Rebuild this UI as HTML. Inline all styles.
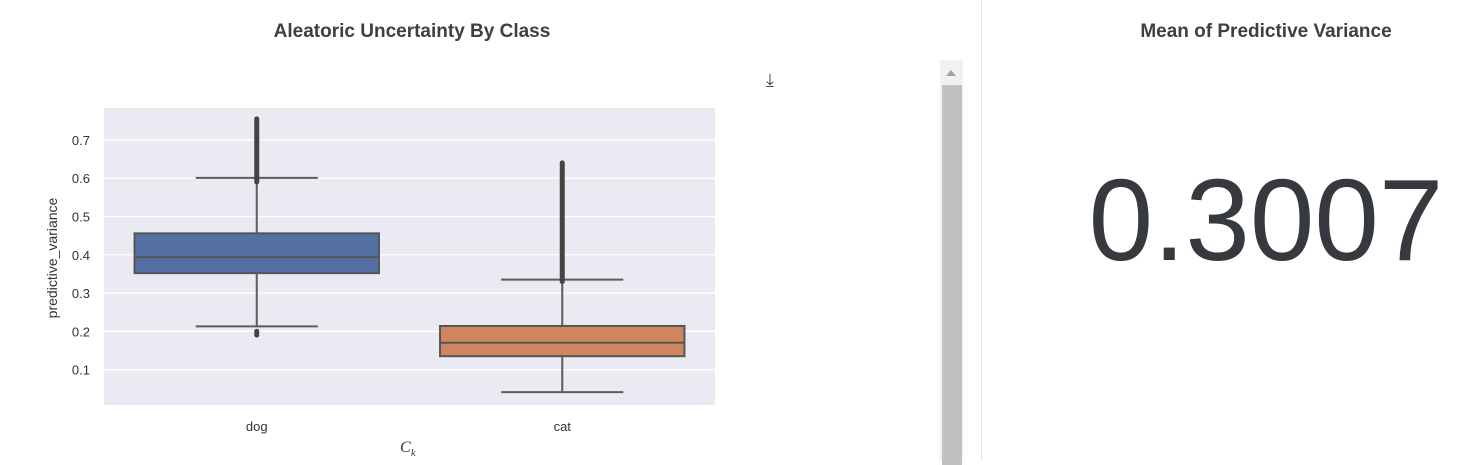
<!DOCTYPE html>
<html><head><meta charset="utf-8">
<style>
body{margin:0;width:1468px;height:460px;background:#fff;overflow:hidden;position:relative;font-family:"Liberation Sans",sans-serif}
.t{position:absolute;font-size:19px;font-weight:bold;color:#3d3f45;text-align:center}
</style></head><body>
<div class="t" style="left:100px;width:624px;top:21px">Aleatoric Uncertainty By Class</div>
<div class="t" style="left:1060px;width:412px;top:21px">Mean of Predictive Variance</div>
<div style="position:absolute;left:1060px;width:412px;top:150px;text-align:center;font-size:116px;color:#36393d;line-height:140px">0.3007</div>
<div style="position:absolute;left:981px;top:0;width:1px;height:460px;background:#e0e0e0"></div>
<div style="position:absolute;left:940px;top:60px;width:23px;height:400px;background:#f1f1f1">
 <div style="position:absolute;left:6px;top:10px;width:0;height:0;border-left:5px solid transparent;border-right:5px solid transparent;border-bottom:6px solid #a3a3a3"></div>
 <div style="position:absolute;left:2px;top:25px;width:20px;height:380px;background:#c1c1c1"></div>
</div>
<div style="position:absolute;left:766px;top:70px;font-size:18px;color:#444">⤓</div>
<svg id="c" width="1468" height="460" style="position:absolute;left:0;top:0"></svg>
<script>
const categories=["dog","cat"];
const q1=[0.352,0.135];
const medians=[0.394,0.170];
const q3=[0.456,0.214];
const whiskLo=[0.213,0.041];
const whiskHi=[0.601,0.335];
const outLo=[[0.19,0.195,0.20],[]];
const outHiMin=[0.59,0.33];
const outHiMax=[0.755,0.64];
const yTicks=[0.1,0.2,0.3,0.4,0.5,0.6,0.7];
const colors=["#5470a3","#cf8660"];
const ns="http://www.w3.org/2000/svg",svg=document.getElementById("c");
const L=104,R=715,T=108,B=405,y0=0.0075,y1=0.7835;
const y=v=>B-(v-y0)/(y1-y0)*(B-T);
const band=(R-L)/categories.length;
const xc=i=>L+band*(i+0.5);
function mk(tag,a){const e=document.createElementNS(ns,tag);for(const k in a)e.setAttribute(k,a[k]);svg.appendChild(e);return e;}
let e=mk("rect",{x:L,y:T,width:R-L,height:B-T,fill:"#eaeaf2"});

yTicks.forEach(t=>{
 let g=mk("line",{x1:L,x2:R,y1:y(t),y2:y(t),stroke:"#fff","stroke-width":1.3});
 
 let l=mk("text",{x:L-14,y:y(t)+5,"text-anchor":"end","font-size":13,fill:"#333","font-family":"Liberation Sans"});
 l.textContent=t.toFixed(1);
 
});
categories.forEach((c,i)=>{
 const cx=xc(i),bw=band*0.8,cw=bw/2;
 let w=mk("line",{x1:cx,x2:cx,y1:y(whiskLo[i]),y2:y(whiskHi[i]),stroke:"#5c5c5c","stroke-width":2});
 
 [whiskLo[i],whiskHi[i]].forEach(v=>{let k=mk("line",{x1:cx-cw/2,x2:cx+cw/2,y1:y(v),y2:y(v),stroke:"#5c5c5c","stroke-width":2});
  });
 let b=mk("rect",{x:cx-bw/2,y:y(q3[i]),width:bw,height:y(q1[i])-y(q3[i]),fill:colors[i],stroke:"#555","stroke-width":2});
 
 let m=mk("line",{x1:cx-bw/2,x2:cx+bw/2,y1:y(medians[i]),y2:y(medians[i]),stroke:"#555","stroke-width":2});
 
 let o=mk("line",{x1:cx,x2:cx,y1:y(outHiMin[i]),y2:y(outHiMax[i]),stroke:"#444","stroke-width":5,"stroke-linecap":"round"});
 
 outLo[i].forEach(v=>{let p=mk("circle",{cx:cx,cy:y(v),r:2.5,fill:"#444"});
  });
 let t=mk("text",{x:cx,y:431,"text-anchor":"middle","font-size":13,fill:"#333","font-family":"Liberation Sans"});
 t.textContent=c;
});
let yt=mk("text",{x:0,y:0,transform:"translate(57,258) rotate(-90)","text-anchor":"middle","font-size":14,fill:"#333","font-family":"Liberation Sans"});
yt.textContent="predictive_variance";
let xt=mk("text",{x:400,y:452,"font-size":16,"font-style":"italic",fill:"#333","font-family":"Liberation Serif"});
xt.textContent="C";
let xs=mk("text",{x:411,y:456,"font-size":10,"font-style":"italic",fill:"#333","font-family":"Liberation Serif"});
xs.textContent="k";
</script>
</body></html>
